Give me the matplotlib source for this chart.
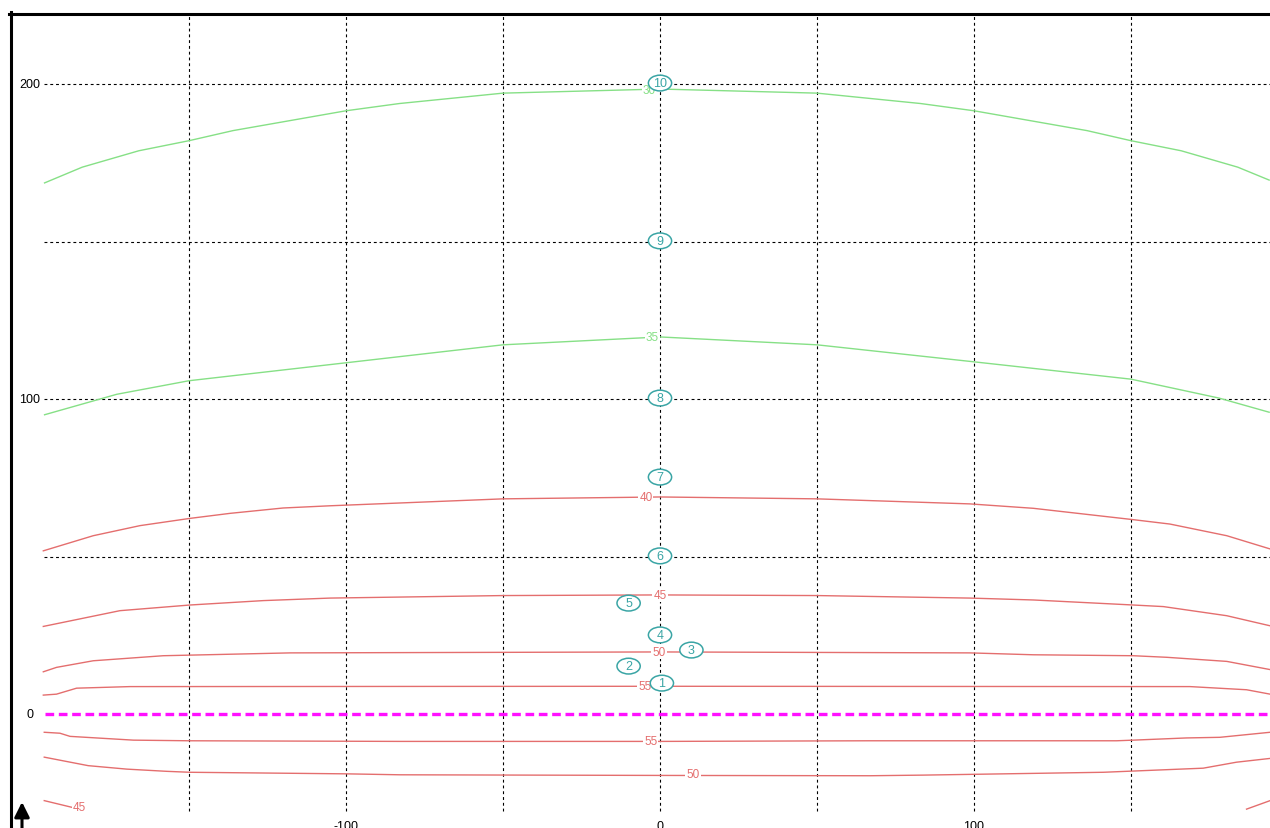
import matplotlib
matplotlib.use("Agg")
import matplotlib.pyplot as plt
from matplotlib.patches import Ellipse
from matplotlib.lines import Line2D

# ---------------- data ----------------
grid_x = [-150, -100, -50, 0, 50, 100, 150]
grid_y = [0, 50, 100, 150, 200]
xtick_vals = [-100, 0, 100]
xtick_labels = ["-100", "0", "100"]
ytick_vals = [0, 100, 200]
ytick_labels = ["0", "100", "200"]

c30_x = [-196, -184, -166, -150, -136, -120, -100, -83, -50, 0, 50, 83, 100, 120, 136, 150, 166, 184, 194]
c30_y = [168.6, 173.6, 178.8, 182.0, 185.2, 188.0, 191.5, 193.8, 197.1, 198.4, 197.1, 193.8, 191.5, 188.0, 185.2, 182.0, 178.8, 173.6, 169.5]

c35_x = [-196, -173, -150, -100, -50, 0, 50, 100, 150, 178, 194]
c35_y = [95.0, 101.5, 105.8, 111.5, 117.2, 119.7, 117.2, 111.8, 106.3, 100.3, 95.8]

c40_x = [-196.4, -180.5, -165.6, -149.7, -136.9, -120, -105.1, -50, 0, 50, 98.7, 118.9, 150.7, 162.4, 180.5, 194.3]
c40_y = [51.8, 56.6, 59.8, 62.1, 63.7, 65.4, 66.1, 68.3, 68.9, 68.3, 66.7, 65.3, 61.7, 60.3, 56.6, 52.4]

c45u_x = [-196.4, -172, -149.7, -126.3, -105.1, -50, 0, 50, 98.7, 118.9, 150.7, 160.3, 180.5, 194.3]
c45u_y = [27.8, 32.8, 34.6, 36.0, 36.8, 37.6, 37.8, 37.6, 36.8, 36.2, 34.6, 34.1, 31.2, 28.0]

c50u_x = [-196.4, -192.2, -180.5, -158.2, -117.8, 0, 98.7, 118.9, 150.7, 161.4, 180.5, 194.3]
c50u_y = [13.4, 14.8, 16.9, 18.5, 19.4, 19.7, 19.4, 18.8, 18.5, 18.0, 16.7, 14.1]

c55u_x = [-196.4, -192.2, -185.8, -168.8, 0, 168.8, 186.8, 194.3]
c55u_y = [6.0, 6.3, 8.2, 8.7, 8.8, 8.7, 7.7, 6.3]

c55l_x = [-196.1, -191.1, -187.9, -167.7, -150, -82.8, 0, 66.9, 145.4, 150.7, 167.7, 178.3, 194.3]
c55l_y = [-5.8, -6.1, -7.1, -8.3, -8.5, -8.7, -8.7, -8.5, -8.5, -8.3, -7.6, -7.4, -5.8]

c50l_x = [-196.1, -182.1, -169.8, -157.1, -149.7, -99.8, -82.8, 0, 66.9, 83.9, 141.2, 173, 183.6, 194.3]
c50l_y = [-13.7, -16.4, -17.5, -18.2, -18.5, -19.0, -19.3, -19.5, -19.6, -19.4, -18.5, -17.2, -15.3, -14.1]

c45ll_x = [-196.1, -187.4]
c45ll_y = [-27.5, -29.6]
c45lr_x = [186.8, 194.3]
c45lr_y = [-30.2, -27.5]

road_x = [-196, 196]
road_y = [0, 0]

# contour labels: text, x, y, colour-group
label_text = ["30", "35", "40", "45", "50", "55", "55", "50", "45", "4"]
label_x = [-3.4, -2.5, -4.5, 0.0, -0.3, -4.8, -2.9, 10.5, -185.0, 195.5]
label_y = [198.1, 119.7, 68.9, 37.8, 19.7, 8.9, -8.6, -19.0, -29.6, -28.0]
label_grp = ["g", "g", "r", "r", "r", "r", "r", "r", "r", "r"]

rcv_id = ["1", "2", "3", "4", "5", "6", "7", "8", "9", "10"]
rcv_x = [0.6, -10, 10, 0, -10, 0, 0, 0, 0, 0]
rcv_y = [9.8, 15.2, 20.3, 25.1, 35.2, 50.2, 75.2, 100.3, 150.2, 200.3]

# ---------------- style ----------------
GREEN = "#86e086"
RED = "#e46e6e"
TEAL = "#3aa5a5"
MAG = "#ff10ff"
FONT = ["Liberation Sans Narrow", "Liberation Sans", "DejaVu Sans"]

W, H = 1270, 829
fig = plt.figure(figsize=(W / 100, H / 100), dpi=100)
ax = fig.add_axes([0, 0, 1, 1])
sx, sy = 3.14, 3.15
x0p, y0p = 660, 715
ax.set_xlim((0 - x0p) / sx, (W - x0p) / sx)
ax.set_ylim((y0p - H) / sy, (y0p - 0) / sy)
ax.axis("off")

gx_left = (44 - x0p) / sx
gy_top = (y0p - 16) / sy
gy_bot = (y0p - 812) / sy
gx_right = (W - x0p) / sx

for gx in grid_x:
    ax.plot([gx, gx], [gy_bot, gy_top], color="black", lw=0.8,
            dashes=(2.6, 2.6), zorder=1)
for gy in grid_y:
    if gy == 0:
        continue
    ax.plot([gx_left, gx_right], [gy, gy], color="black", lw=0.8,
            dashes=(2.6, 2.6), zorder=1)

# contour lines
for xs, ys, col in [
    (c30_x, c30_y, GREEN), (c35_x, c35_y, GREEN),
    (c40_x, c40_y, RED), (c45u_x, c45u_y, RED), (c50u_x, c50u_y, RED),
    (c55u_x, c55u_y, RED), (c55l_x, c55l_y, RED), (c50l_x, c50l_y, RED),
    (c45ll_x, c45ll_y, RED), (c45lr_x, c45lr_y, RED)]:
    ax.plot(xs, ys, color=col, lw=1.0, zorder=2)

# road
ax.plot(road_x, road_y, color=MAG, lw=2.4, dashes=(2.6, 1.4), zorder=3)

# contour labels
for t, x, y, g in zip(label_text, label_x, label_y, label_grp):
    ax.text(x, y, t, color=GREEN if g == "g" else RED, fontsize=8.5,
            family=FONT, ha="center", va="center", zorder=4,
            bbox=dict(boxstyle="square,pad=0.08", fc="white", ec="none"))

# receivers
for rid, x, y in zip(rcv_id, rcv_x, rcv_y):
    ax.add_patch(Ellipse((x, y), width=7.4, height=5.0, fc="white",
                         ec=TEAL, lw=1.1, zorder=5))
    ax.text(x, y, rid, color=TEAL, fontsize=9, family=FONT,
            ha="center", va="center", zorder=6)

# tick labels
for v, t in zip(ytick_vals, ytick_labels):
    ax.text((30 - x0p) / sx, v, t, fontsize=9, family=FONT,
            ha="center", va="center", color="black")
for v, t in zip(xtick_vals, xtick_labels):
    ax.text(v, (y0p - 821) / sy, t, fontsize=9, family=FONT,
            ha="center", va="top", color="black")

# north arrow
ax.annotate("", xy=((22 - x0p) / sx, (y0p - 803) / sy),
            xytext=((22 - x0p) / sx, (y0p - 835) / sy),
            arrowprops=dict(arrowstyle="-|>,head_width=0.45,head_length=0.9",
                            color="black", lw=2.2, shrinkA=0, shrinkB=0))

# frame
fig.add_artist(Line2D([10.5 / W, 10.5 / W], [0, 1 - 13 / H],
                      transform=fig.transFigure, color="black", lw=2.2))
fig.add_artist(Line2D([9 / W, 1], [1 - 14.7 / H, 1 - 14.7 / H],
                      transform=fig.transFigure, color="black", lw=2.2))

fig.savefig("out.png", dpi=100, facecolor="white")
